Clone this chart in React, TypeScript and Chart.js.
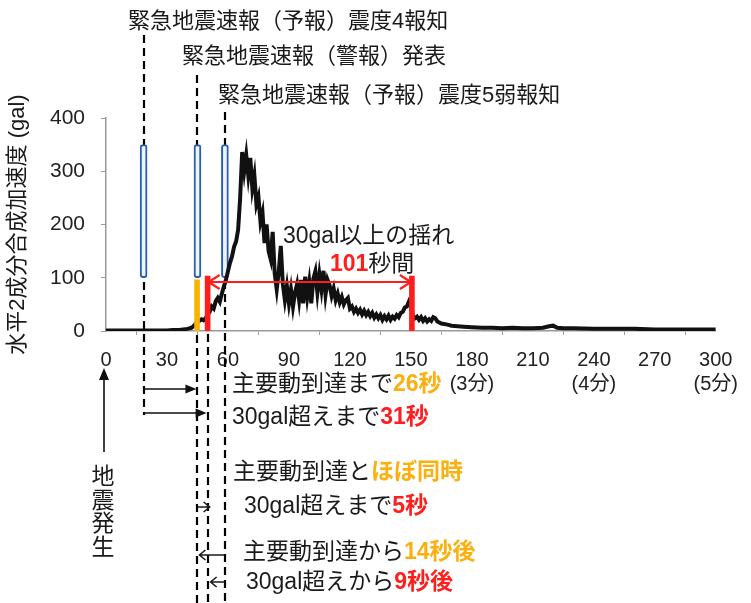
import React, { useEffect, useRef } from "react";
import { Chart, registerables } from "chart.js";
Chart.register(...registerables);

// ---- data ----
const timeSec = [
  0, 5, 10, 15, 20, 25, 30, 33, 36, 38, 40, 41, 42, 43, 44, 45, 46, 47, 48, 49,
  50, 51, 52, 53, 54, 55, 56, 57, 58, 59, 60, 61, 62, 63, 64, 65, 66, 67, 68, 69,
  70, 71, 72, 73, 74, 75, 76, 77, 78, 79, 80, 81, 82, 83, 84, 85, 86, 87, 88, 89,
  90, 91, 92, 93, 94, 95, 96, 97, 98, 99, 100, 101, 102, 103, 104, 105, 106, 107, 108, 109,
  110, 111, 112, 113, 114, 115, 116, 117, 118, 119, 120, 121, 122, 123, 124, 125, 126, 127, 128, 129,
  130, 131, 132, 133, 134, 135, 136, 137, 138, 139, 140, 141, 142, 143, 144, 145, 146, 147, 148, 149,
  150, 151, 152, 153, 154, 155, 156, 157, 158, 159, 160, 161, 162, 163, 165, 168, 170, 173, 176, 180,
  185, 190, 195, 200, 205, 210, 215, 218, 220, 222, 225, 230, 240, 250, 260, 270, 280, 290, 300,
];
const accelGal = [
  1, 1, 1, 1, 1, 1, 1, 2, 2, 3, 4, 5, 6, 9, 13, 17, 19, 22, 20, 24,
  30, 36, 46, 42, 56, 62, 55, 70, 84, 96, 112, 128, 140, 158, 168, 190, 250, 336, 300, 330,
  292, 325, 268, 292, 238, 252, 205, 222, 165, 200, 150, 135, 186, 108, 78, 112, 160, 88, 58, 84,
  52, 78, 46, 72, 88, 58, 96, 52, 102, 64, 92, 52, 98, 112, 72, 106, 78, 113, 68, 96,
  86, 66, 80, 58, 70, 54, 64, 50, 58, 62, 42, 46, 36, 42, 34, 40, 31, 38, 30, 36,
  28, 34, 25, 31, 24, 30, 21, 28, 22, 29, 21, 27, 23, 30, 26, 34, 36, 44, 46, 55,
  47, 28, 24, 27, 21, 26, 19, 24, 18, 22, 19, 26, 24, 18, 14, 12, 10, 9, 8, 7,
  6, 6, 5, 6, 5, 5, 6, 9, 10, 6, 5, 5, 4, 4, 4, 3, 3, 3, 3,
];
const warningTimes = [18.5, 45, 58.5]; // 予報(震度4), 警報, 予報(震度5弱)
const warningBar = [100, 350];
const mainMotionTime = 44.8;
const mainMotionBar = [-1, 96];
const over30Times = [50, 150.5];
const over30Bar = [-4, 103];
const over30ArrowLevel = 92;
const xTickStep = 30;
const minuteNotes: Record<number, string> = { 180: "(3分)", 240: "(4分)", 300: "(5分)" };
const yTicks = [0, 100, 200, 300, 400];

const FONT = '"Liberation Sans", "Noto Sans CJK JP", Arial, sans-serif';
const ORANGE = "#FBB010";
const RED = "#FF1E1E";
const BLACK = "#1a1a1a";

type Run = [string, string, boolean];

function drawRuns(ctx: CanvasRenderingContext2D, x: number, y: number, runs: Run[], size: number) {
  let cx = x;
  ctx.textBaseline = "middle";
  ctx.textAlign = "left";
  for (const [t, color, bold] of runs) {
    ctx.font = `${bold ? "bold " : ""}${size}px ${FONT}`;
    ctx.fillStyle = color;
    ctx.fillText(t, cx, y);
    cx += ctx.measureText(t).width;
  }
}

function dashed(ctx: CanvasRenderingContext2D, x: number, y1: number, y2: number) {
  ctx.save();
  ctx.strokeStyle = "#000";
  ctx.lineWidth = 2.2;
  ctx.lineCap = "butt";
  ctx.setLineDash([8, 5]);
  ctx.beginPath();
  ctx.moveTo(Math.round(x), y1);
  ctx.lineTo(Math.round(x), y2);
  ctx.stroke();
  ctx.restore();
}

function filledArrow(ctx: CanvasRenderingContext2D, x1: number, y1: number, x2: number, y2: number, len = 11, half = 4.5) {
  const ang = Math.atan2(y2 - y1, x2 - x1);
  ctx.save();
  ctx.strokeStyle = "#111";
  ctx.fillStyle = "#111";
  ctx.lineWidth = 1.6;
  ctx.setLineDash([]);
  ctx.beginPath();
  ctx.moveTo(x1, y1);
  ctx.lineTo(x2 - Math.cos(ang) * len * 0.6, y2 - Math.sin(ang) * len * 0.6);
  ctx.stroke();
  ctx.beginPath();
  ctx.moveTo(x2, y2);
  ctx.lineTo(x2 - Math.cos(ang) * len - Math.sin(ang) * half, y2 - Math.sin(ang) * len + Math.cos(ang) * half);
  ctx.lineTo(x2 - Math.cos(ang) * len + Math.sin(ang) * half, y2 - Math.sin(ang) * len - Math.cos(ang) * half);
  ctx.closePath();
  ctx.fill();
  ctx.restore();
}

function openArrow(ctx: CanvasRenderingContext2D, x1: number, y: number, x2: number, color: string, width: number, len: number, half: number) {
  const dir = x2 > x1 ? 1 : -1;
  ctx.save();
  ctx.strokeStyle = color;
  ctx.lineWidth = width;
  ctx.beginPath();
  ctx.moveTo(x1, y);
  ctx.lineTo(x2, y);
  ctx.moveTo(x2 - dir * len, y - half);
  ctx.lineTo(x2, y);
  ctx.lineTo(x2 - dir * len, y + half);
  ctx.stroke();
  ctx.restore();
}

const annotationPlugin = {
  id: "quakeAnnotations",
  beforeDatasetsDraw(chart: any) {
    const ctx = chart.ctx as CanvasRenderingContext2D;
    const xs = chart.scales.x;
    const H = chart.height;
    dashed(ctx, xs.getPixelForValue(warningTimes[0]), 35, 415);
    dashed(ctx, xs.getPixelForValue(warningTimes[1]), 75, H);
    dashed(ctx, xs.getPixelForValue(over30Times[0]), 334, H);
    dashed(ctx, xs.getPixelForValue(warningTimes[2]), 112, H);
  },
  afterDatasetsDraw(chart: any) {
    const ctx = chart.ctx as CanvasRenderingContext2D;
    const xs = chart.scales.x;
    const ys = chart.scales.y;
    const xW1 = xs.getPixelForValue(warningTimes[0]);
    const xW2 = xs.getPixelForValue(warningTimes[1]);
    const xW3 = xs.getPixelForValue(warningTimes[2]);
    const x30 = xs.getPixelForValue(over30Times[0]);
    const xEnd = xs.getPixelForValue(over30Times[1]);
    const x0 = xs.getPixelForValue(0);

    // red double arrow: 30gal duration
    const ya = ys.getPixelForValue(over30ArrowLevel);
    ctx.save();
    ctx.strokeStyle = RED;
    ctx.lineWidth = 2.2;
    ctx.beginPath();
    ctx.moveTo(x30 + 1, ya);
    ctx.lineTo(xEnd - 1, ya);
    ctx.moveTo(x30 + 12, ya - 7);
    ctx.lineTo(x30 + 1, ya);
    ctx.lineTo(x30 + 12, ya + 7);
    ctx.moveTo(xEnd - 12, ya - 7);
    ctx.lineTo(xEnd - 1, ya);
    ctx.lineTo(xEnd - 12, ya + 7);
    ctx.stroke();
    ctx.restore();

    // top labels
    drawRuns(ctx, 128, 22, [["緊急地震速報（予報）震度4報知", BLACK, false]], 22);
    drawRuns(ctx, 182, 57, [["緊急地震速報（警報）発表", BLACK, false]], 22);
    drawRuns(ctx, 218, 96, [["緊急地震速報（予報）震度5弱報知", BLACK, false]], 22);

    // duration labels
    drawRuns(ctx, 283, 237, [["30gal以上の揺れ", BLACK, false]], 23);
    drawRuns(ctx, 330, 265, [["101", RED, true], ["秒間", BLACK, false]], 23);

    // bottom arrows
    filledArrow(ctx, xW1, 389, xW2 - 1, 389);
    filledArrow(ctx, xW1, 413, x30 - 1, 413);
    openArrow(ctx, xW2, 507, x30 + 2, BLACK, 1.6, 6, 5);
    openArrow(ctx, xW3, 555, xW2 + 2, BLACK, 1.6, 6, 5);
    openArrow(ctx, xW3, 582, x30 + 3, BLACK, 1.6, 6, 5);

    // bottom texts
    drawRuns(ctx, 232, 385, [["主要動到達まで", BLACK, false], ["26秒", ORANGE, true]], 23);
    drawRuns(ctx, 232, 418, [["30gal超えまで", BLACK, false], ["31秒", RED, true]], 23);
    drawRuns(ctx, 233, 473, [["主要動到達と", BLACK, false], ["ほぼ同時", ORANGE, true]], 23);
    drawRuns(ctx, 244, 507, [["30gal超えまで", BLACK, false], ["5秒", RED, true]], 23);
    drawRuns(ctx, 243, 553, [["主要動到達から", BLACK, false], ["14秒後", ORANGE, true]], 23);
    drawRuns(ctx, 246, 583, [["30gal超えから", BLACK, false], ["9秒後", RED, true]], 23);

    // earthquake occurrence
    filledArrow(ctx, x0 - 2, 452, x0 - 2, 368, 12, 5);
    ctx.save();
    ctx.font = `23px ${FONT}`;
    ctx.fillStyle = BLACK;
    ctx.textAlign = "center";
    ctx.textBaseline = "middle";
    const chars = ["地", "震", "発", "生"];
    chars.forEach((c, i) => ctx.fillText(c, x0 - 3, 478 + i * 23.5));
    ctx.restore();
  },
};

export default function App() {
  const ref = useRef<HTMLCanvasElement>(null);
  useEffect(() => {
    const canvas = ref.current!;
    const chart = new Chart(canvas, {
      type: "line",
      data: {
        datasets: [
          {
            type: "line",
            label: "加速度",
            data: timeSec.map((t, i) => ({ x: t, y: accelGal[i] })),
            borderColor: "#111",
            borderWidth: 4,
            pointRadius: 0,
            tension: 0,
            order: 1,
          } as any,
          {
            type: "bar",
            label: "緊急地震速報",
            data: warningTimes.map((t) => ({ x: t, y: warningBar })),
            backgroundColor: "#eef4fd",
            borderColor: "#2a5db0",
            borderWidth: 2,
            borderRadius: 3,
            borderSkipped: false,
            barThickness: 7,
            grouped: false,
            order: 2,
          } as any,
          {
            type: "bar",
            label: "主要動到達",
            data: [{ x: mainMotionTime, y: mainMotionBar }],
            backgroundColor: "#F7B500",
            barThickness: 5,
            grouped: false,
            order: 0,
          } as any,
          {
            type: "bar",
            label: "30gal",
            data: over30Times.map((t) => ({ x: t, y: over30Bar })),
            backgroundColor: RED,
            barThickness: 5,
            grouped: false,
            order: 0,
          } as any,
        ],
      },
      options: {
        responsive: false,
        animation: false,
        layout: { padding: { top: 118, right: 31, left: 0, bottom: 0 } },
        plugins: { legend: { display: false }, tooltip: { enabled: false } },
        scales: {
          x: {
            type: "linear",
            min: 0,
            max: 300,
            offset: false,
            afterFit: (s: any) => {
              s.height = 272;
            },
            border: { color: "#9a9a9a", width: 1.5 },
            grid: { drawOnChartArea: false, tickLength: 4, color: "#9a9a9a" },
            ticks: {
              stepSize: xTickStep,
              autoSkip: false,
              maxRotation: 0,
              padding: 13,
              color: "#222",
              font: { family: FONT, size: 20, lineHeight: 1.2 },
              callback: (v: any) => (minuteNotes[v] ? [String(v), minuteNotes[v]] : String(v)),
            },
          },
          y: {
            type: "linear",
            min: yTicks[0],
            max: yTicks[yTicks.length - 1],
            afterFit: (s: any) => {
              s.width = 106;
            },
            border: { color: "#9a9a9a", width: 1.5 },
            grid: { drawOnChartArea: false, tickLength: 5, color: "#9a9a9a" },
            afterBuildTicks: (s: any) => {
              s.ticks = yTicks.map((v) => ({ value: v }));
            },
            ticks: {
              padding: 16,
              color: "#222",
              font: { family: FONT, size: 21 },
            },
            title: {
              display: true,
              text: "水平2成分合成加速度 (gal)",
              color: BLACK,
              font: { family: FONT, size: 22 },
              padding: { top: 5, bottom: 0 },
            },
          },
        },
      },
      plugins: [annotationPlugin],
    });
    return () => chart.destroy();
  }, []);
  return (
    <div style={{ position: "absolute", left: 0, top: 0, width: 751, height: 603, background: "#fff" }}>
      <canvas ref={ref} width={751} height={603} style={{ display: "block" }} />
    </div>
  );
}
